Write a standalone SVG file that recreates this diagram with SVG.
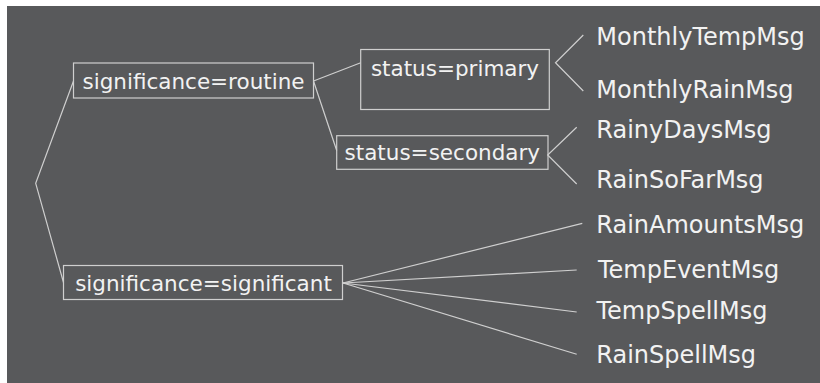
<svg xmlns="http://www.w3.org/2000/svg" width="820" height="383" viewBox="0 0 820 383">
<style>
.box{fill:none;stroke:#cfcfcf;stroke-width:1.2}
.lbl{font-family:"DejaVu Sans",sans-serif;font-size:21.5px;fill:#f2f2f2;text-anchor:middle}
.msg{font-family:"DejaVu Sans",sans-serif;font-size:24px;fill:#f2f2f2}
.conn line,.conn polyline{stroke:#cfcfcf;stroke-width:1.2;fill:none}
</style>
<rect x="0" y="0" width="820" height="383" fill="#ffffff"/>
<rect x="7" y="6" width="813" height="377" fill="#58595b"/>
<g class="conn">
<polyline points="73.5,81 35.7,183.3 63.5,282.5"/>
<line x1="313.5" y1="81" x2="360.7" y2="62.7"/>
<line x1="313.5" y1="81" x2="336.7" y2="150.5"/>
<polyline points="583.3,35 555.5,62.7 583.3,91"/>
<polyline points="576.7,127.3 547.7,155 576.7,184"/>
<line x1="343" y1="283" x2="582.3" y2="223.3"/>
<line x1="343" y1="283" x2="576.7" y2="270"/>
<line x1="343" y1="283" x2="576.7" y2="312"/>
<line x1="343" y1="283" x2="576.7" y2="354.3"/>
</g>
<g id="routine">
<rect class="box" x="73.5" y="63" width="240" height="35"/>
<text class="lbl" x="193.5" y="89.3">significance=routine</text>
</g>
<g id="significant">
<rect class="box" x="63.5" y="265.5" width="279" height="34"/>
<text class="lbl" x="203.5" y="291.3">significance=significant</text>
</g>
<g id="primary">
<rect class="box" x="360.7" y="49.5" width="188.6" height="60"/>
<text class="lbl" x="455" y="76">status=primary</text>
</g>
<g id="secondary">
<rect class="box" x="336.7" y="135.7" width="211.3" height="33.6"/>
<text class="lbl" x="442.3" y="160">status=secondary</text>
</g>
<g id="MonthlyTempMsg"><text class="msg" x="596.3" y="45">MonthlyTempMsg</text></g>
<g id="MonthlyRainMsg"><text class="msg" x="596.3" y="97.7">MonthlyRainMsg</text></g>
<g id="RainyDaysMsg"><text class="msg" x="596.3" y="137.7">RainyDaysMsg</text></g>
<g id="RainSoFarMsg"><text class="msg" x="596.3" y="188.3">RainSoFarMsg</text></g>
<g id="RainAmountsMsg"><text class="msg" x="596.3" y="233.3">RainAmountsMsg</text></g>
<g id="TempEventMsg"><text class="msg" x="598" y="278.3">TempEventMsg</text></g>
<g id="TempSpellMsg"><text class="msg" x="596.5" y="319.3">TempSpellMsg</text></g>
<g id="RainSpellMsg"><text class="msg" x="596.3" y="362.7">RainSpellMsg</text></g>
</svg>
